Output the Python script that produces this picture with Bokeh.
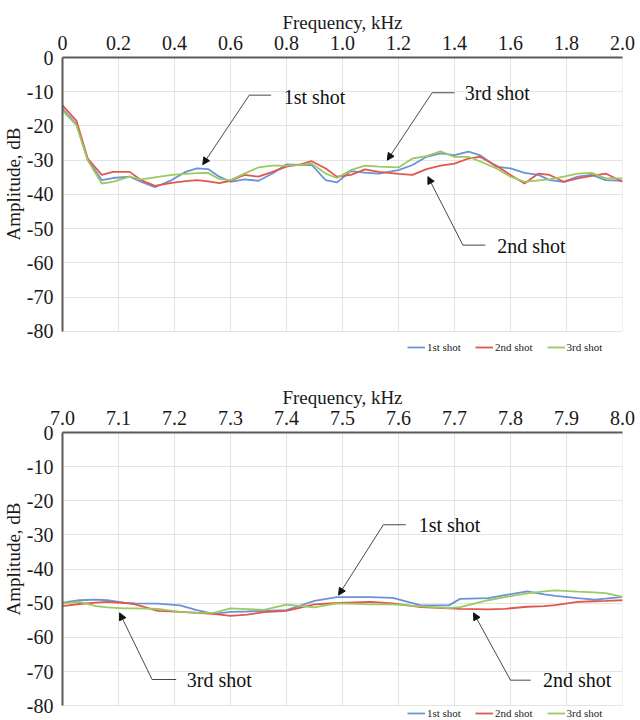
from bokeh.plotting import figure
from bokeh.layouts import column
from bokeh.models import (FixedTicker, Legend, LegendItem, Label, Arrow, NormalHead,
                          NumeralTickFormatter, Range1d, Title)
from bokeh.embed import file_html
from bokeh.resources import INLINE

FONT = "Times New Roman"

series_names = ["1st shot", "2nd shot", "3rd shot"]
series_colors = ["#6b93d6", "#e2574c", "#9cc962"]

y_ticks = [0, -10, -20, -30, -40, -50, -60, -70, -80]
x_ticks_low = [0.0, 0.2, 0.4, 0.6, 0.8, 1.0, 1.2, 1.4, 1.6, 1.8, 2.0]
x_ticks_high = [7.0, 7.1, 7.2, 7.3, 7.4, 7.5, 7.6, 7.7, 7.8, 7.9, 8.0]

# ---- 0 - 2 kHz ----
freq_low = [0.0, 0.05, 0.09, 0.14, 0.18, 0.24, 0.28, 0.33, 0.39, 0.44, 0.48, 0.52, 0.56, 0.60,
            0.65, 0.70, 0.75, 0.80, 0.85, 0.89, 0.94, 0.98, 1.03, 1.08, 1.13, 1.20, 1.25, 1.30,
            1.35, 1.40, 1.45, 1.49, 1.55, 1.60, 1.65, 1.70, 1.74, 1.79, 1.84, 1.89, 1.94, 2.00]
shot1_low = [-15.0, -19.5, -29.8, -35.8, -35.2, -34.8, -36.3, -37.9, -35.8, -33.4, -32.4, -32.6,
             -34.8, -36.3, -35.6, -36.0, -33.9, -31.2, -31.4, -31.4, -35.8, -36.5, -33.2, -33.6,
             -33.9, -32.9, -31.4, -29.0, -28.0, -28.5, -27.5, -28.5, -31.9, -32.4, -33.7, -34.3,
             -35.8, -36.3, -34.8, -34.3, -35.8, -36.0]
shot2_low = [-14.0, -18.5, -29.5, -34.3, -33.4, -33.4, -35.8, -37.5, -36.6, -36.1, -35.8, -36.2,
             -36.7, -36.0, -34.3, -34.8, -33.4, -31.9, -31.2, -30.3, -32.4, -34.8, -34.3, -32.7,
             -33.4, -34.0, -34.3, -32.6, -31.6, -31.0, -29.5, -29.0, -31.6, -34.3, -36.8, -33.9,
             -34.3, -36.3, -35.3, -34.6, -33.9, -36.3]
shot3_low = [-15.5, -19.8, -30.0, -36.8, -36.3, -34.8, -35.6, -35.0, -34.3, -34.0, -33.8, -33.7,
             -35.5, -35.8, -33.9, -32.1, -31.6, -31.6, -31.4, -31.0, -33.9, -35.2, -32.9, -31.6,
             -31.9, -32.1, -29.5, -28.8, -27.4, -29.0, -29.0, -30.3, -32.4, -34.8, -36.3, -35.9,
             -35.6, -34.8, -33.9, -33.7, -35.3, -35.3]

# ---- 7 - 8 kHz ----
freq_high = [7.00, 7.03, 7.06, 7.08, 7.11, 7.13, 7.17, 7.21, 7.24, 7.27, 7.30, 7.33, 7.36, 7.40,
             7.45, 7.49, 7.51, 7.55, 7.59, 7.64, 7.69, 7.71, 7.76, 7.79, 7.83, 7.86, 7.88, 7.92,
             7.95, 7.97, 8.00]
shot1_high = [-49.8, -49.1, -48.9, -49.1, -49.8, -50.0, -50.1, -50.6, -52.0, -53.1, -52.5, -52.4,
              -52.2, -52.0, -49.3, -48.2, -48.2, -48.2, -48.4, -50.6, -50.6, -48.7, -48.5, -47.6,
              -46.5, -47.4, -47.8, -48.5, -48.9, -48.6, -48.1]
shot2_high = [-50.8, -50.2, -49.8, -49.6, -49.9, -50.3, -52.2, -52.5, -52.8, -53.1, -53.7, -53.3,
              -52.6, -52.2, -50.3, -49.9, -49.8, -49.6, -50.0, -51.1, -51.5, -51.6, -51.8, -51.6,
              -51.0, -50.8, -50.5, -49.6, -49.4, -49.3, -49.1]
shot3_high = [-50.0, -49.6, -50.8, -51.2, -51.5, -51.5, -51.6, -52.5, -52.7, -52.8, -51.5, -51.7,
              -51.9, -50.4, -51.2, -50.0, -50.1, -50.3, -50.3, -50.9, -51.4, -51.1, -49.1, -48.2,
              -47.1, -46.5, -46.2, -46.6, -46.8, -47.0, -48.1]

# callouts: text, text x, text y, leader start x, elbow x, elbow y, tip x, tip y
notes_low = [
    ("1st shot", 0.790, -11.4, 0.745, 0.667, -11.0, 0.501, -31.3),
    ("3rd shot", 1.437, -10.3, 1.400, 1.320, -10.3, 1.160, -30.0),
    ("2nd shot", 1.553, -55.1, 1.510, 1.430, -54.8, 1.305, -34.8),
]
notes_high = [
    ("1st shot", 7.636, -27.0, 7.613, 7.573, -27.0, 7.493, -47.6),
    ("3rd shot", 7.222, -72.3, 7.203, 7.160, -72.3, 7.102, -52.8),
    ("2nd shot", 7.858, -72.5, 7.836, 7.800, -72.5, 7.734, -52.8),
]


def style_axis(ax):
    ax.axis_label_text_font = FONT
    ax.axis_label_text_font_style = "normal"
    ax.axis_label_text_font_size = "19px"
    ax.axis_label_text_color = "#1a1a1a"
    ax.major_label_text_font = FONT
    ax.major_label_text_font_size = "20px"
    ax.major_label_text_color = "#1a1a1a"
    ax.axis_line_color = "#5a5a5a"
    ax.axis_line_width = 2
    ax.major_tick_line_color = None
    ax.minor_tick_line_color = None


def make_panel(freq, shots, x_ticks, overrides, notes, top_border, y_floor, legend_y):
    # the frame reaches a little below -80 so that the legend sits under the chart
    p = figure(width=640, height=360,
               x_range=Range1d(x_ticks[0], x_ticks[-1]), y_range=Range1d(y_floor, 0),
               x_axis_location="above", output_backend="svg", toolbar_location=None,
               min_border_left=62, min_border_right=18,
               min_border_top=top_border, min_border_bottom=0)
    p.outline_line_color = None
    p.background_fill_color = "white"

    xa = p.xaxis[0]
    xa.ticker = FixedTicker(ticks=x_ticks)
    xa.formatter = NumeralTickFormatter(format="0.0")
    xa.major_label_overrides = overrides
    xa.axis_label = "Frequency, kHz"
    ya = p.yaxis[0]
    ya.ticker = FixedTicker(ticks=y_ticks)
    ya.formatter = NumeralTickFormatter(format="0")
    ya.bounds = (y_ticks[-1], y_ticks[0])
    style_axis(xa)
    style_axis(ya)
    xa.major_label_standoff = 2
    xa.axis_label_standoff = 0
    ya.major_label_standoff = 3
    ya.axis_label_standoff = 0

    # y-axis title, aligned with the upper part of the frame like the reference
    p.add_layout(Title(text="Amplitude, dB", align="right", offset=70, standoff=0,
                       text_font=FONT, text_font_size="19px", text_font_style="normal",
                       text_color="#1a1a1a"), "left")

    p.xgrid.visible = False
    p.ygrid.grid_line_color = "#e4e4e4"
    n = len(x_ticks)
    p.segment(x0=x_ticks, y0=[y_ticks[-1]] * n, x1=x_ticks, y1=[y_ticks[0]] * n,
              line_color="#e4e4e4", line_width=1)

    items = []
    for name, color, vals in zip(series_names, series_colors, shots):
        r = p.line(freq, vals, line_color=color, line_width=1.8)
        items.append(LegendItem(label=name, renderers=[r]))

    for text, tx, ty, hx, ex, ey, px_, py_ in notes:
        p.add_layout(Label(x=tx, y=ty, text=text, text_font=FONT, text_font_size="20px",
                           text_baseline="middle", text_align="left", text_color="#111111"))
        p.add_layout(Arrow(end=None, x_start=hx, y_start=ey, x_end=ex, y_end=ey,
                           line_color="#333333", line_width=0.9))
        p.add_layout(Arrow(end=NormalHead(size=7, fill_color="#111111", line_color="#111111"),
                           x_start=ex, y_start=ey, x_end=px_, y_end=py_,
                           line_color="#333333", line_width=0.9))

    legend = Legend(items=items, orientation="horizontal", location=(345, legend_y),
                    label_text_font=FONT, label_text_font_size="11px", label_text_color="#222222",
                    glyph_width=18, glyph_height=12, label_height=12, label_standoff=2,
                    spacing=14, padding=0, margin=0, border_line_color=None,
                    background_fill_alpha=0)
    p.add_layout(legend)
    return p


top = make_panel(freq_low, [shot1_low, shot2_low, shot3_low], x_ticks_low, {0: "0"},
                 notes_low, 57, -88.5, 7)
bottom = make_panel(freq_high, [shot1_high, shot2_high, shot3_high], x_ticks_high, {},
                    notes_high, 72, -84.3, 1)

layout = column(top, bottom, spacing=0)
open("out.html", "w").write(file_html(layout, INLINE))
